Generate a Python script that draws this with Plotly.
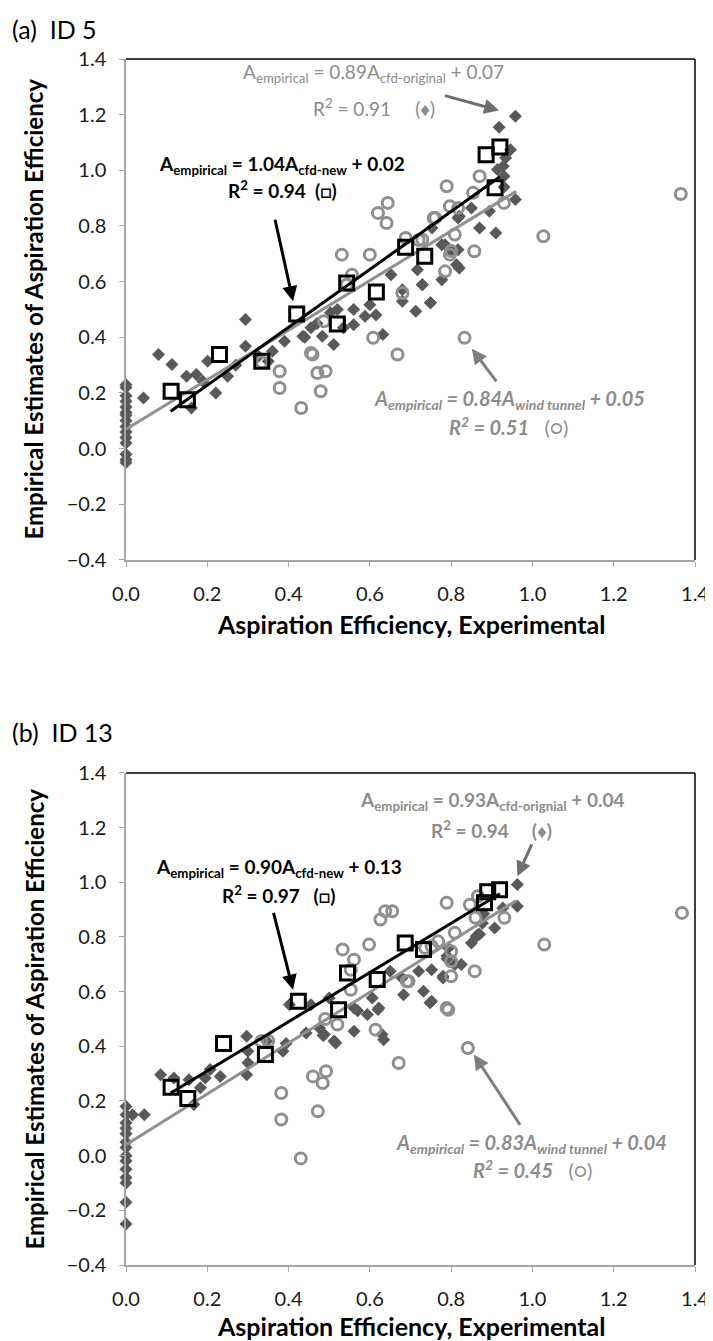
import plotly.graph_objects as go

# ---------------- Panel (a) ID 5 ----------------
a_orig_x = [0, 0, 0, 0, 0, 0, 0, 0, 0, 0, 0, 0, 0, 0, 0,
            0.043, 0.08, 0.113, 0.149, 0.173, 0.189, 0.201, 0.221, 0.161, 0.294, 0.326, 0.39, 0.511, 0.44,
            0.294, 0.35, 0.435, 0.455, 0.483, 0.503, 0.535, 0.56, 0.56, 0.588, 0.6, 0.615, 0.632, 0.652,
            0.68, 0.68, 0.713, 0.729, 0.749, 0.753, 0.777, 0.801, 0.813, 0.817,
            0.958, 0.918, 0.946, 0.934, 0.928, 0.93, 0.914, 0.958, 0.93, 0.894, 0.85, 0.82, 0.87, 0.91,
            0.785, 0.817, 0.82, 0.777, 0.729, 0.749, 0.717, 0.25, 0.27, 0.36, 0.47, 0.52]
a_orig_y = [0.23, 0.22, 0.19, 0.17, 0.15, 0.13, 0.12, 0.10, 0.08, 0.06, 0.04, 0.02, -0.02, -0.04, -0.05,
            0.182, 0.338, 0.302, 0.26, 0.266, 0.242, 0.314, 0.2, 0.146, 0.368, 0.332, 0.386, 0.374, 0.40,
            0.464, 0.314, 0.404, 0.434, 0.404, 0.488, 0.434, 0.50, 0.445, 0.476, 0.517, 0.48, 0.41, 0.625,
            0.571, 0.53, 0.494, 0.589, 0.524, 0.793, 0.733, 0.709, 0.661, 0.829,
            1.194, 1.155, 1.074, 1.045, 1.015, 0.979, 1.003, 0.895, 0.94, 0.853, 0.865, 0.835, 0.793, 0.775,
            0.733, 0.715, 0.649, 0.607, 0.589, 0.524, 0.643, 0.26, 0.30, 0.35, 0.45, 0.50]

a_tunnel_x = [0.378, 0.378, 0.431, 0.459, 0.471, 0.491, 0.479, 0.487, 0.455, 0.334, 0.608, 0.668, 0.833,
              0.531, 0.60, 0.556, 0.543, 0.62, 0.641, 0.644, 0.688, 0.72, 0.761, 0.789, 0.817, 0.80,
              0.87, 0.854, 0.93, 0.797, 0.757, 0.729, 0.809, 0.857, 0.797, 0.785, 0.68, 1.027, 1.365]
a_tunnel_y = [0.278, 0.218, 0.146, 0.338, 0.272, 0.278, 0.206, 0.458, 0.344, 0.31, 0.398, 0.338, 0.398,
              0.697, 0.697, 0.625, 0.589, 0.847, 0.811, 0.883, 0.757, 0.75, 0.829, 0.943, 0.865, 0.71,
              0.979, 0.919, 0.883, 0.871, 0.829, 0.751, 0.769, 0.709, 0.697, 0.637, 0.559, 0.763, 0.915]

a_new_x = [0.111, 0.151, 0.23, 0.334, 0.42, 0.52, 0.543, 0.616, 0.688, 0.735, 0.886, 0.92, 0.908]
a_new_y = [0.206, 0.176, 0.338, 0.314, 0.484, 0.448, 0.595, 0.563, 0.724, 0.691, 1.056, 1.084, 0.937]

# ---------------- Panel (b) ID 13 ----------------
b_orig_x = [0, 0, 0, 0, 0, 0, 0, 0, 0, 0, 0, 0, 0, 0,
            0.045, 0.016, 0.085, 0.118, 0.155, 0.167, 0.183, 0.195, 0.207, 0.232, 0.297, 0.30, 0.297, 0.30,
            0.346, 0.386, 0.394, 0.443, 0.476, 0.485, 0.512, 0.561, 0.57, 0.594, 0.62, 0.634,
            0.402, 0.455, 0.488, 0.50, 0.516, 0.561, 0.606, 0.622, 0.63, 0.65, 0.679, 0.683, 0.72,
            0.732, 0.752, 0.78, 0.79, 0.825, 0.862, 0.87,
            0.963, 0.963, 0.927, 0.907, 0.866, 0.85, 0.793, 0.809, 0.78, 0.752, 0.748, 0.88, 0.877, 0.79]
b_orig_y = [0.18, 0.15, 0.12, 0.10, 0.08, 0.05, 0.03, 0.0, -0.02, -0.05, -0.08, -0.10, -0.17, -0.25,
            0.15, 0.15, 0.296, 0.284, 0.278, 0.187, 0.248, 0.284, 0.315, 0.29, 0.437, 0.382, 0.296, 0.34,
            0.419, 0.382, 0.41, 0.449, 0.467, 0.44, 0.419, 0.455, 0.53, 0.516, 0.535, 0.424,
            0.552, 0.552, 0.443, 0.577, 0.412, 0.54, 0.577, 0.54, 0.443, 0.675, 0.65, 0.589, 0.675,
            0.601, 0.565, 0.65, 0.73, 0.699, 0.803, 0.81,
            0.992, 0.912, 0.906, 0.833, 0.809, 0.778, 0.76, 0.699, 0.656, 0.68, 0.559, 0.885, 0.85, 0.72]

b_tunnel_x = [0.333, 0.35, 0.382, 0.382, 0.46, 0.484, 0.492, 0.472, 0.43, 0.671, 0.614, 0.793, 0.49, 0.52,
              0.553, 0.553, 0.533, 0.598, 0.561, 0.638, 0.626, 0.655, 0.691, 0.695, 0.752, 0.736, 0.768,
              0.80, 0.80, 0.80, 0.809, 0.789, 0.789, 0.846, 0.866, 0.858, 0.86, 0.931, 0.841, 1.029, 1.368]
b_tunnel_y = [0.419, 0.42, 0.229, 0.132, 0.29, 0.266, 0.309, 0.162, -0.01, 0.339, 0.461, 0.534, 0.50, 0.48,
              0.68, 0.607, 0.754, 0.772, 0.717, 0.894, 0.864, 0.894, 0.638, 0.638, 0.766, 0.76, 0.784,
              0.711, 0.656, 0.748, 0.815, 0.925, 0.54, 0.918, 0.949, 0.675, 0.87, 0.87, 0.394, 0.772, 0.888]

b_new_x = [0.111, 0.152, 0.24, 0.343, 0.424, 0.523, 0.545, 0.618, 0.687, 0.732, 0.882, 0.89, 0.919]
b_new_y = [0.25, 0.209, 0.41, 0.37, 0.565, 0.534, 0.668, 0.644, 0.778, 0.754, 0.925, 0.965, 0.973]

# fit equations (slope, intercept) and drawn x-extent
a_fit_orig = (0.89, 0.07, 0.0, 0.96)
a_fit_new = (1.04, 0.02, 0.11, 0.92)
b_fit_orig = (0.93, 0.04, 0.0, 0.96)
b_fit_new = (0.90, 0.13, 0.11, 0.92)

DIAMOND = "#595959"
CIRCLE = "#8f8f8f"
GRAYTXT = "#8c8c8c"
FONT = "Lato"

fig = go.Figure()


def add_panel(xa, ya, ox, oy, tx, ty, nx, ny, fo, fn):
    fig.add_trace(go.Scatter(x=ox, y=oy, mode="markers", xaxis=xa, yaxis=ya, cliponaxis=False,
                             marker=dict(symbol="diamond", size=10, color=DIAMOND), showlegend=False))
    fig.add_trace(go.Scatter(x=tx, y=ty, mode="markers", xaxis=xa, yaxis=ya, cliponaxis=False,
                             marker=dict(symbol="circle-open", size=11, color=CIRCLE, line=dict(width=3, color=CIRCLE)),
                             showlegend=False))
    m, c, x0, x1 = fo
    fig.add_trace(go.Scatter(x=[x0, x1], y=[m * x0 + c, m * x1 + c], mode="lines", xaxis=xa, yaxis=ya,
                             line=dict(color="#909090", width=3), showlegend=False))
    m, c, x0, x1 = fn
    fig.add_trace(go.Scatter(x=[x0, x1], y=[m * x0 + c, m * x1 + c], mode="lines", xaxis=xa, yaxis=ya,
                             line=dict(color="#000000", width=3), showlegend=False))
    fig.add_trace(go.Scatter(x=nx, y=ny, mode="markers", xaxis=xa, yaxis=ya, cliponaxis=False,
                             marker=dict(symbol="square-open", size=14, color="#000000", line=dict(width=3, color="#000000")),
                             showlegend=False))


add_panel("x", "y", a_orig_x, a_orig_y, a_tunnel_x, a_tunnel_y, a_new_x, a_new_y, a_fit_orig, a_fit_new)
add_panel("x2", "y2", b_orig_x, b_orig_y, b_tunnel_x, b_tunnel_y, b_new_x, b_new_y, b_fit_orig, b_fit_new)

axis_common = dict(showgrid=False, zeroline=False, showline=True, linecolor="#a6a6a6", linewidth=1.5,
                   ticks="outside", ticklen=5, tickcolor="#a6a6a6", tickwidth=1,
                   tickfont=dict(family=FONT, size=20, color="#1a1a1a"), tickformat=".1f", dtick=0.2)

TOP_DOM = [0.5846, 1.0]
BOT_DOM = [0.0, 0.408]

fig.update_layout(
    width=713, height=1341,
    margin=dict(l=118, r=16, t=51, b=84),
    paper_bgcolor="white", plot_bgcolor="white",
    xaxis=dict(domain=[0, 1], range=[0, 1.4], anchor="y", ticklabelstandoff=10, **axis_common),
    yaxis=dict(domain=TOP_DOM, range=[-0.4, 1.4], anchor="x", ticklabelstandoff=9, **axis_common),
    xaxis2=dict(domain=[0, 1], range=[0, 1.4], anchor="y2", ticklabelstandoff=10, **axis_common),
    yaxis2=dict(domain=BOT_DOM, range=[-0.4, 1.4], anchor="x2", ticklabelstandoff=9, **axis_common),
)

# top / right plot-area borders (black)
for xr, yr in (("x domain", "y domain"), ("x2 domain", "y2 domain")):
    fig.add_shape(type="line", xref=xr, yref=yr, x0=0, x1=1, y0=1, y1=1, line=dict(color="#000", width=1.5))
    fig.add_shape(type="line", xref=xr, yref=yr, x0=1, x1=1, y0=0, y1=1, line=dict(color="#000", width=1.5))

ann = []
NB = "\u00a0"


def text(xr, yr, x, y, t, color, size=19):
    ann.append(dict(xref=xr, yref=yr, x=x, y=y, text=t, showarrow=False, xanchor="center", yanchor="middle",
                    font=dict(family=FONT, size=size, color=color)))


def arrow(xr, yr, hx, hy, tx, ty, color):
    ann.append(dict(xref=xr, yref=yr, axref=xr, ayref=yr, x=hx, y=hy, ax=tx, ay=ty, text="", showarrow=True,
                    arrowhead=2, arrowsize=1, arrowwidth=3, arrowcolor=color, standoff=0, startstandoff=0))


# panel (a)
text("x", "y", 0.61, 1.35, "A<sub>empirical</sub> = 0.89A<sub>cfd-original</sub> + 0.07", GRAYTXT)
text("x", "y", 0.61, 1.227, "R<sup>2</sup> = 0.91" + NB * 5 + "(\u2666)", GRAYTXT)
arrow("x", "y", 0.918, 1.215, 0.781, 1.27, "#6e6e6e")
text("x", "y", 0.383, 1.02, "<b>A<sub>empirical</sub> = 1.04A<sub>cfd-new</sub> + 0.02</b>", "#000")
text("x", "y", 0.385, 0.93, "<b>R<sup>2</sup> = 0.94" + NB * 2 + "(\u25a1)</b>", "#000")
arrow("x", "y", 0.411, 0.53, 0.366, 0.828, "#000")
text("x", "y", 0.944, 0.176, "<b><i>A<sub>empirical</sub> = 0.84A<sub>wind tunnel</sub> + 0.05</i></b>", GRAYTXT, 20)
text("x", "y", 0.94, 0.08, "<b><i>R<sup>2</sup> = 0.51</i></b>" + NB * 3 + "(\u25cb)", GRAYTXT, 20)
arrow("x", "y", 0.851, 0.359, 0.914, 0.236, "#7f7f7f")

# panel (b)
text("x2", "y2", 0.90, 1.297, "<b>A<sub>empirical</sub> = 0.93A<sub>cfd-orignial</sub> + 0.04</b>", GRAYTXT)
text("x2", "y2", 0.90, 1.193, "<b>R<sup>2</sup> = 0.94" + NB * 5 + "(\u2666)</b>", GRAYTXT)
arrow("x2", "y2", 0.963, 1.022, 1.0, 1.144, "#6e6e6e")
text("x2", "y2", 0.377, 1.053, "<b>A<sub>empirical</sub> = 0.90A<sub>cfd-new</sub> + 0.13</b>", "#000")
text("x2", "y2", 0.376, 0.957, "<b>R<sup>2</sup> = 0.97" + NB * 3 + "(\u25a1)</b>", "#000")
arrow("x2", "y2", 0.411, 0.607, 0.362, 0.894, "#000")
text("x2", "y2", 0.997, 0.046, "<b><i>A<sub>empirical</sub> = 0.83A<sub>wind tunnel</sub> + 0.04</i></b>", GRAYTXT, 20)
text("x2", "y2", 1.0, -0.05, "<b><i>R<sup>2</sup> = 0.45</i></b>" + NB * 3 + "(\u25cb)", GRAYTXT, 20)
arrow("x2", "y2", 0.856, 0.37, 0.972, 0.107, "#7f7f7f")

# axis titles and panel labels (paper coords)
PW, PH = 713 - 118 - 16, 1341 - 51 - 84


def px_to_paper(px, py):
    return (px - 118) / PW, (1341 - 84 - py) / PH


YT = "<b>Empirical Estimates of Aspiration Efficiency</b>"
XT = "<b>Aspiration Efficiency, Experimental</b>"
for (cy, xty) in ((301, 616), (1011, 1318)):
    x, y = px_to_paper(24, cy)
    ann.append(dict(xref="paper", yref="paper", x=x, y=y, text=YT, textangle=-90, showarrow=False,
                    xanchor="center", yanchor="middle", font=dict(family=FONT, size=24, color="#000")))
    x, y = px_to_paper(408, xty)
    ann.append(dict(xref="paper", yref="paper", x=x, y=y, text=XT, showarrow=False,
                    xanchor="center", yanchor="middle", font=dict(family=FONT, size=25, color="#000")))

for lab, py in (("(a)" + NB * 2 + "ID 5", 21), ("(b)" + NB * 2 + "ID 13", 724)):
    x, y = px_to_paper(0, py)
    ann.append(dict(xref="paper", yref="paper", x=x, y=y, text=lab, showarrow=False,
                    xanchor="left", yanchor="middle", font=dict(family=FONT, size=25, color="#000")))

fig.update_layout(annotations=ann)
fig.write_html("out.html")
